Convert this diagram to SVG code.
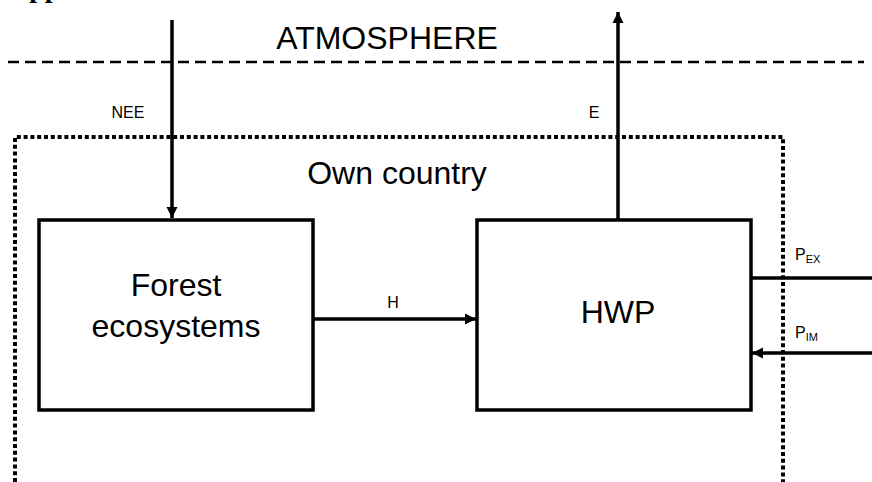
<svg xmlns="http://www.w3.org/2000/svg" width="872" height="482" viewBox="0 0 872 482">
<style>
.t{font-family:"Liberation Sans",Arial,sans-serif;fill:#000}
.big{font-size:32px}
.small{font-size:16px}
.sub{font-size:11px}
.box{fill:#fff;stroke:#000;stroke-width:3.5}
.conn{stroke:#000;stroke-width:3.5;fill:none}
</style>
<defs>
<marker id="ah" markerUnits="userSpaceOnUse" markerWidth="12" markerHeight="12" viewBox="0 0 12 12" refX="11" refY="6" orient="auto">
<path d="M0,0.5 L11,6 L0,11.5 Z" fill="#000"/>
</marker>
</defs>
<rect width="872" height="482" fill="#fff"/>
<text x="9" y="-3" style="font-family:'Liberation Serif','Times New Roman',serif;font-weight:bold;font-size:28px">App</text>
<g id="atmosphere">
<text class="t big" x="387" y="49" text-anchor="middle">ATMOSPHERE</text>
<line x1="8" y1="62" x2="864" y2="62" stroke="#000" stroke-width="2.5" stroke-dasharray="11 6"/>
</g>
<g id="own-country">
<path d="M15,482 L15,137 L783,137 L783,482" fill="none" stroke="#000" stroke-width="4" stroke-dasharray="4 2.8"/>
<text class="t big" x="397" y="184" text-anchor="middle">Own country</text>
</g>
<g id="forest">
<rect class="box" x="39" y="220" width="274" height="190"/>
<text class="t big" x="176" y="296" text-anchor="middle">Forest</text>
<text class="t big" x="176" y="337" text-anchor="middle">ecosystems</text>
</g>
<g id="hwp">
<rect class="box" x="477" y="220" width="274" height="190"/>
<text class="t big" x="618" y="323" text-anchor="middle">HWP</text>
</g>
<g id="connectors">
<line class="conn" x1="172" y1="20" x2="172" y2="218" marker-end="url(#ah)"/>
<line class="conn" x1="618" y1="220" x2="618" y2="12" marker-end="url(#ah)"/>
<line class="conn" x1="313" y1="319" x2="476" y2="319" marker-end="url(#ah)"/>
<line class="conn" x1="751" y1="278" x2="872" y2="278"/>
<line class="conn" x1="872" y1="353" x2="752" y2="353" marker-end="url(#ah)"/>
<text class="t small" x="128" y="118" text-anchor="middle">NEE</text>
<text class="t small" x="594" y="118" text-anchor="middle">E</text>
<text class="t small" x="393" y="308" text-anchor="middle">H</text>
<text class="t small" x="795" y="260">P<tspan class="sub" dy="3">EX</tspan></text>
<text class="t small" x="795" y="338">P<tspan class="sub" dy="3">IM</tspan></text>
</g>
</svg>
